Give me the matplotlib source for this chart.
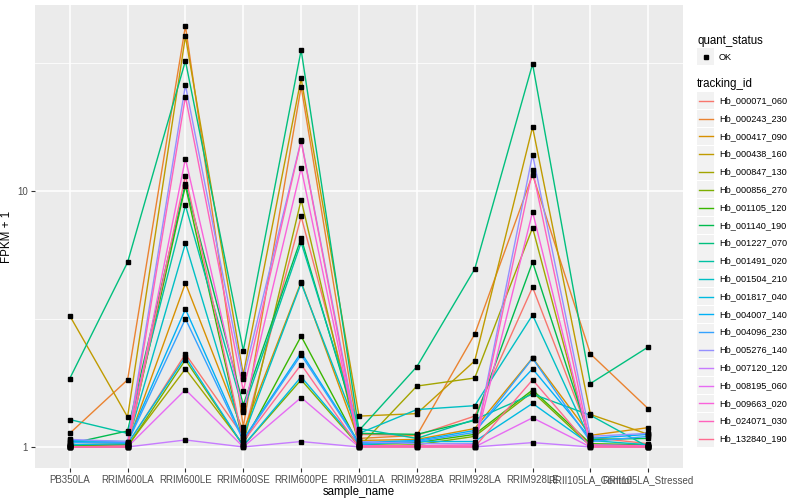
import numpy as np
import pandas as pd
import matplotlib
matplotlib.use('Agg')
import matplotlib.pyplot as plt
from matplotlib.patches import Rectangle
from matplotlib.lines import Line2D

plt.rcParams['font.family'] = ['Liberation Sans', 'DejaVu Sans']

samples = ['PB350LA', 'RRIM600LA', 'RRIM600LE', 'RRIM600SE', 'RRIM600PE', 'RRIM901LA',
           'RRIM928BA', 'RRIM928LA', 'RRIM928LE', 'RRII105LA_Control', 'RRII105LA_Stressed']

tracking_ids = ['Hb_000071_060', 'Hb_000243_230', 'Hb_000417_090', 'Hb_000438_160',
                'Hb_000847_130', 'Hb_000856_270', 'Hb_001105_120', 'Hb_001140_190',
                'Hb_001227_070', 'Hb_001491_020', 'Hb_001504_210', 'Hb_001817_040',
                'Hb_004007_140', 'Hb_004096_230', 'Hb_005276_140', 'Hb_007120_120',
                'Hb_008195_060', 'Hb_009663_020', 'Hb_024071_030', 'Hb_132840_190']

# ggplot hue palette for 20 levels
colors = ['#F8766D', '#EA8331', '#D89000', '#C09B00', '#A3A500', '#7CAE00', '#39B600',
          '#00BB4E', '#00BF7D', '#00C1A3', '#00BFC4', '#00BAE0', '#00B0F6', '#35A2FF',
          '#9590FF', '#C77CFF', '#E76BF3', '#FA62DB', '#FF62BC', '#FF6C91']

# FPKM + 1 per sample, in tracking_id order
PB350LA = [1.01, 1.13, 1.02, 3.26, 1.01, 1.0, 1.01, 1.03, 1.85, 1.28,
           1.05, 1.02, 1.06, 1.04, 1.07, 1.0, 1.0, 1.0, 1.0, 1.0]
RRIM600LA = [1.02, 1.83, 1.03, 1.31, 1.01, 1.0, 1.02, 1.155, 5.27, 1.13,
             1.04, 1.03, 1.05, 1.04, 1.05, 1.0, 1.0, 1.0, 1.01, 1.0]
RRIM600LE = [2.31, 44.2, 4.37, 40.3, 2.02, 2.19, 10.5, 10.7, 32.3, 8.8,
             6.25, 2.25, 3.46, 3.17, 26.0, 1.065, 1.675, 13.4, 23.4, 11.5]
RRIM600SE = [1.1, 1.2, 1.15, 1.92, 1.02, 1.01, 1.03, 1.46, 2.38, 1.39,
             1.1, 1.01, 1.07, 1.06, 1.85, 1.0, 1.0, 1.37, 1.66, 1.05]
RRIM600PE = [7.96, 25.6, 4.42, 27.6, 9.25, 1.83, 2.71, 6.55, 35.6, 6.3,
             4.37, 1.88, 2.34, 2.29, 15.8, 1.05, 1.56, 12.3, 15.7, 2.10]
RRIM901LA = [1.12, 1.08, 1.06, 1.32, 1.0, 1.01, 1.02, 1.13, 1.16, 1.18,
             1.13, 1.02, 1.04, 1.03, 1.05, 1.0, 1.0, 1.01, 1.01, 1.0]
RRIM928BA = [1.11, 1.11, 1.07, 1.35, 1.73, 1.02, 1.04, 1.12, 2.06, 1.08,
             1.40, 1.05, 1.06, 1.05, 1.03, 1.0, 1.0, 1.01, 1.01, 1.0]
RRIM928LA = [1.32, 2.76, 1.18, 2.17, 1.86, 1.1, 1.12, 1.27, 4.96, 1.28,
             1.45, 1.05, 1.16, 1.14, 1.03, 1.0, 1.0, 1.01, 1.02, 1.0]
RRIM928LE = [4.21, 11.6, 2.23, 17.8, 7.19, 1.64, 1.67, 5.28, 31.4, 1.61,
             3.28, 1.48, 2.02, 2.22, 13.9, 1.04, 1.30, 8.3, 12.1, 1.83]
RRII105LA_Control = [1.09, 2.31, 1.11, 1.34, 1.02, 1.01, 1.03, 1.07, 1.77, 1.33,
                     1.06, 1.02, 1.08, 1.05, 1.10, 1.0, 1.0, 1.01, 1.02, 1.0]
RRII105LA_Stressed = [1.03, 1.41, 1.19, 1.12, 1.01, 1.0, 1.02, 1.08, 2.46, 1.0,
                      1.02, 1.01, 1.12, 1.1, 1.13, 1.0, 1.0, 1.0, 1.01, 1.0]

df = pd.DataFrame({
    'PB350LA': PB350LA, 'RRIM600LA': RRIM600LA, 'RRIM600LE': RRIM600LE,
    'RRIM600SE': RRIM600SE, 'RRIM600PE': RRIM600PE, 'RRIM901LA': RRIM901LA,
    'RRIM928BA': RRIM928BA, 'RRIM928LA': RRIM928LA, 'RRIM928LE': RRIM928LE,
    'RRII105LA_Control': RRII105LA_Control, 'RRII105LA_Stressed': RRII105LA_Stressed,
}, index=tracking_ids)[samples]

fig = plt.figure(figsize=(8, 5), dpi=100)
ax = fig.add_axes([35 / 800, 32 / 500, 648 / 800, 463 / 500])
ax.set_facecolor('#EBEBEB')

x = np.arange(len(samples))
for tid, col in zip(tracking_ids, colors):
    ax.plot(x, df.loc[tid].values, color=col, lw=1.0, zorder=3)
for tid in tracking_ids:
    ax.plot(x, df.loc[tid].values, 's', color='black', ms=2.6, zorder=4, lw=0)

ax.set_yscale('log')
lo, hi = np.log10(df.values.min()), np.log10(df.values.max())
pad = 0.05 * (hi - lo)
ax.set_ylim(10 ** (lo - pad), 10 ** (hi + pad))
ax.set_xlim(-0.6, len(samples) - 0.4)

ax.set_yticks([1, 10])
ax.set_yticklabels(['1', '10'])
ax.set_yticks([10 ** 0.5, 10 ** 1.5], minor=True)
ax.yaxis.set_minor_formatter(plt.NullFormatter())
ax.set_xticks(x)
ax.set_xticklabels(samples)

ax.grid(True, which='major', color='white', lw=1.1, zorder=0)
ax.grid(True, which='minor', axis='y', color='white', lw=0.55, zorder=0)
ax.set_axisbelow(True)
for s in ax.spines.values():
    s.set_visible(False)
ax.tick_params(which='major', length=3, width=0.8, color='#333333',
               labelcolor='#4D4D4D', labelsize=7.0, pad=2)
ax.tick_params(which='minor', length=0)

ax.set_xlabel('sample_name', fontsize=8.3, color='black', labelpad=1)
ax.set_ylabel('FPKM + 1', fontsize=8.3, color='black', labelpad=3)

# legend, drawn in figure pixel coordinates
def fx(px):
    return px / 800

def fy(py):
    return 1 - py / 500

fig.text(fx(697), fy(41), 'quant_status', fontsize=8.3, va='center', ha='left')
fig.add_artist(Rectangle((fx(697), fy(65)), 17 / 800, 17 / 500, transform=fig.transFigure,
                         facecolor='#F2F2F2', edgecolor='none'))
fig.add_artist(Line2D([fx(705.5)], [fy(56.5)], marker='s', ms=2.6, color='black',
                      transform=fig.transFigure))
fig.text(fx(719), fy(57), 'OK', fontsize=6.6, va='center', ha='left')

fig.text(fx(697), fy(84), 'tracking_id', fontsize=8.3, va='center', ha='left')
step = 17.8
for i, (tid, col) in enumerate(zip(tracking_ids, colors)):
    cy = 100.7 + i * step
    fig.add_artist(Rectangle((fx(697), fy(cy + 8.5)), 17 / 800, 17 / 500,
                             transform=fig.transFigure, facecolor='#F2F2F2', edgecolor='none'))
    fig.add_artist(Line2D([fx(698.5), fx(712.5)], [fy(cy), fy(cy)], color=col, lw=1.0,
                          transform=fig.transFigure))
    fig.text(fx(719), fy(cy), tid, fontsize=6.6, va='center', ha='left')

fig.savefig('out.png', dpi=100)
